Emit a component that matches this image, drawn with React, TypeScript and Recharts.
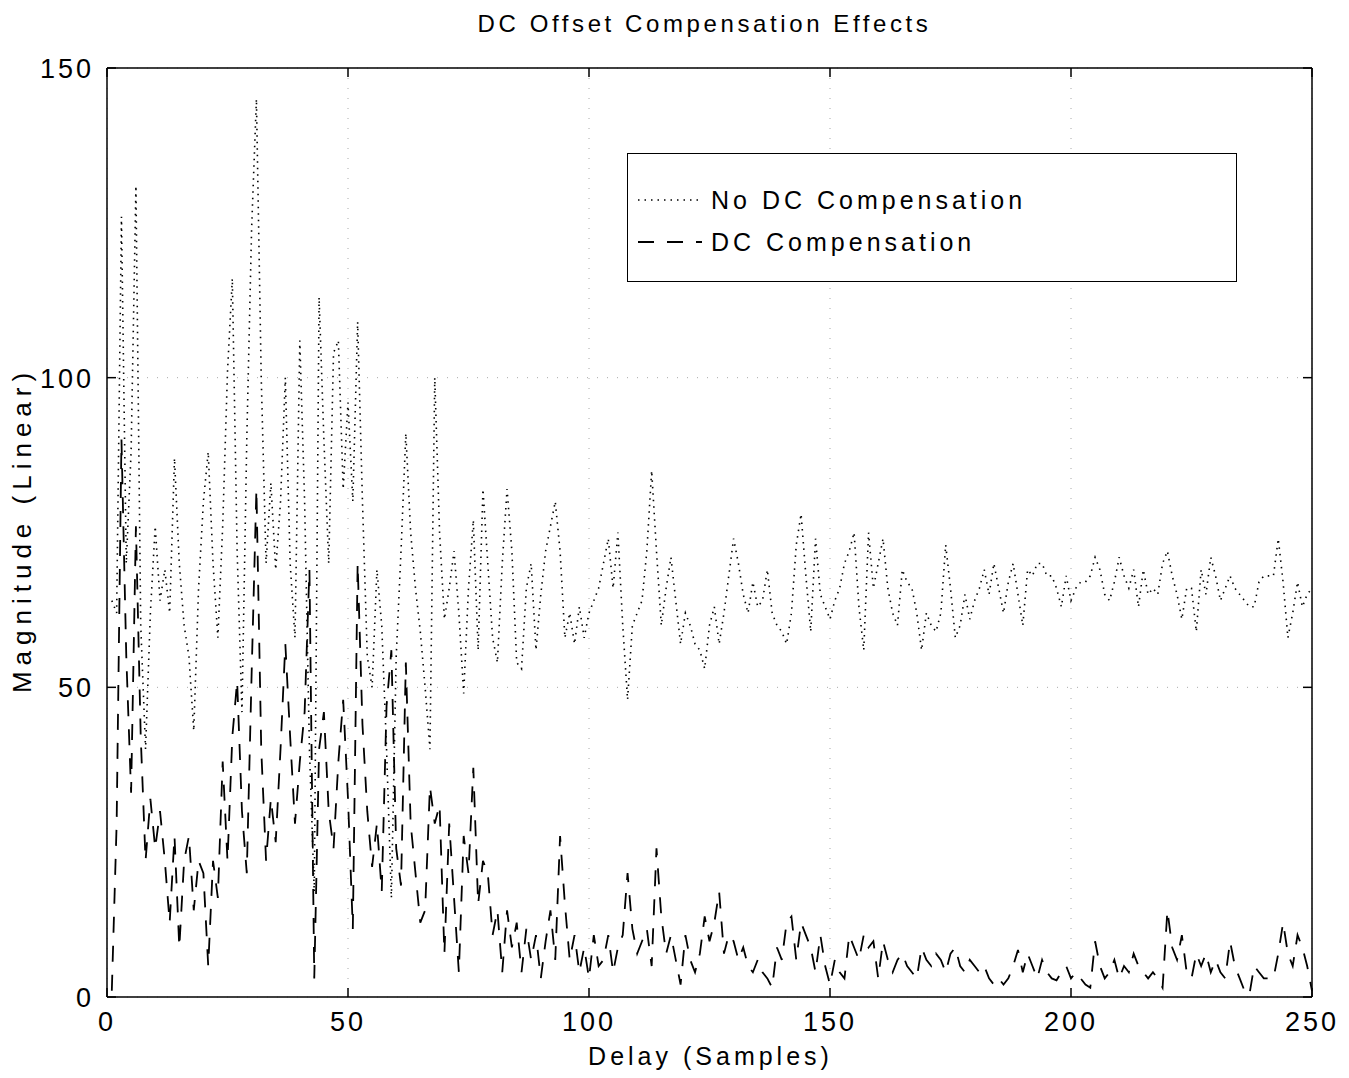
import React from "react";
import { LineChart, Line, XAxis, YAxis, CartesianGrid, ReferenceLine } from "recharts";

// magnitude per delay sample (1..250)
const noDcComp = [
    64, 62, 126, 70, 88, 131, 60, 40, 62, 76,
    64, 69, 62, 87, 70, 60, 55, 43, 66, 80,
    88, 70, 58, 76, 101, 116, 72, 46, 90, 124,
    145, 100, 70, 83, 69, 80, 100, 70, 58, 106,
    80, 40, 17, 113, 90, 70, 104, 106, 82, 96,
    80, 109, 80, 55, 50, 69, 60, 40, 16, 55,
    72, 91, 75, 66, 59, 50, 40, 100, 75, 61,
    66, 72, 62, 49, 66, 77, 56, 82, 70, 58,
    54, 70, 82, 72, 54, 53, 66, 70, 56, 65,
    72, 76, 80, 72, 58, 62, 57, 63, 58, 62,
    64, 66, 70, 74, 66, 75, 60, 48, 60, 62,
    64, 72, 85, 72, 60, 66, 71, 64, 57, 62,
    60, 57, 56, 53, 60, 63, 57, 62, 68, 74,
    70, 65, 62, 67, 63, 64, 69, 62, 60, 59,
    57, 62, 73, 78, 68, 59, 74, 65, 63, 61,
    64, 66, 70, 72, 75, 63, 56, 75, 66, 70,
    74, 66, 62, 60, 69, 67, 66, 62, 56, 62,
    60, 59, 62, 73, 66, 58, 60, 65, 61, 64,
    66, 69, 65, 70, 66, 62, 67, 70, 65, 60,
    69, 68, 70, 70, 68, 68, 66, 63, 68, 64,
    66, 67, 67, 68, 71, 69, 65, 64, 67, 71,
    68, 66, 69, 63, 69, 65, 66, 65, 70, 72,
    68, 65, 61, 66, 66, 59, 69, 65, 71, 68,
    64, 66, 68, 66, 65, 64, 63, 63, 67, 68,
    68, 68, 74, 67, 58, 62, 67, 63, 65, 66,
];

const dcComp = [
    1, 28, 90, 55, 33, 76, 42, 22, 32, 24,
    30, 22, 12, 26, 8, 22, 26, 14, 22, 20,
    5, 22, 16, 38, 22, 42, 51, 30, 20, 52,
    82, 40, 22, 32, 25, 40, 57, 42, 28, 38,
    46, 69, 3, 40, 46, 30, 24, 38, 48, 32,
    11, 70, 44, 30, 21, 28, 17, 47, 56, 24,
    18, 54, 28, 20, 12, 14, 34, 28, 31, 7,
    28, 16, 4, 26, 20, 37, 15, 22, 20, 10,
    14, 4, 14, 8, 12, 4, 11, 6, 10, 3,
    9, 14, 6, 26, 15, 6, 10, 4, 8, 3,
    10, 5, 6, 10, 4, 8, 10, 20, 11, 7,
    9, 11, 5, 24, 13, 7, 10, 6, 2, 10,
    6, 4, 7, 13, 9, 12, 17, 7, 10, 9,
    6, 8, 5, 4, 6, 4, 3, 1.5, 8, 6,
    12, 13, 6, 12, 10, 8, 4, 10, 5, 2,
    6, 4, 3, 10, 8, 6, 10, 8, 9, 3,
    9, 6, 4, 6, 7, 5, 4, 3, 8, 6,
    5, 7, 6, 4, 7, 8, 5, 4, 6, 5,
    4, 5, 3, 2, 3, 2, 3, 5, 7.6, 4,
    7, 5, 3, 6, 4, 3, 2.7, 4, 5, 3,
    4, 3, 2, 1.5, 9, 5, 3, 4, 6, 3,
    5, 4, 7, 5, 4, 3, 4, 3, 1.5, 14,
    8, 6, 10, 4, 3, 7, 5, 7, 4, 6,
    4, 3, 9, 5, 3, 1, 0.3, 5, 4, 3,
    3, 3, 7, 12, 7, 5, 10, 8, 5, 1,
];

const xTicks = [0, 50, 100, 150, 200, 250];
const yTicks = [0, 50, 100, 150];

const seriesNames = ["No DC Compensation", "DC Compensation"];

const data = noDcComp.map((v, i) => ({
    delay: i + 1,
    noDc: v,
    dc: dcComp[i],
}));

const FONT = "'Liberation Sans', Arial, Helvetica, sans-serif";
const PLOT_TOP = 68;
const PLOT_RIGHT = 1312;

const XTick = (props: any) => {
    const { x, y, payload } = props;
    return (
        <g>
            <line x1={x} x2={x} y1={y} y2={y - 9} stroke="#000" strokeWidth={1.5} />
            <line x1={x} x2={x} y1={PLOT_TOP} y2={PLOT_TOP + 9} stroke="#000" strokeWidth={1.5} />
            <text x={x} y={y + 34} textAnchor="middle" fontSize={27} letterSpacing={3} fontFamily={FONT} fill="#000">
                {payload.value}
            </text>
        </g>
    );
};

const YTick = (props: any) => {
    const { x, y, payload } = props;
    return (
        <g>
            <line x1={x} x2={x + 9} y1={y} y2={y} stroke="#000" strokeWidth={1.5} />
            <line x1={PLOT_RIGHT - 9} x2={PLOT_RIGHT} y1={y} y2={y} stroke="#000" strokeWidth={1.5} />
            <text x={x - 13} y={y + 10} textAnchor="end" fontSize={27} letterSpacing={3} fontFamily={FONT} fill="#000">
                {payload.value}
            </text>
        </g>
    );
};

// legend drawn as a plain box over the plot, like the MATLAB one
const LegendBox = () => (
    <div
        style={{
            position: "absolute",
            left: 627,
            top: 153,
            width: 608,
            height: 127,
            border: "1.5px solid #000",
            background: "#fff",
            fontFamily: FONT,
            fontSize: 25,
            letterSpacing: 4,
            color: "#000",
        }}
    >
        {seriesNames.map((name, i) => (
            <div key={name} style={{ position: "absolute", left: 8, top: 30 + i * 42, height: 32, display: "flex", alignItems: "center" }}>
                <svg width={70} height={10}>
                    <line
                        x1={2}
                        x2={66}
                        y1={5}
                        y2={5}
                        stroke="#000"
                        strokeWidth={i === 0 ? 1.6 : 1.8}
                        strokeDasharray={i === 0 ? "1.5 5" : "16 13"}
                    />
                </svg>
                <span style={{ marginLeft: 5 }}>{name}</span>
            </div>
        ))}
    </div>
);

export default function App() {
    return (
        <div style={{ position: "absolute", left: 0, top: 0, width: 1349, height: 1078, background: "#fff" }}>
            <div
                style={{
                    position: "absolute",
                    left: 0,
                    width: 1349,
                    top: 10,
                    textAlign: "center",
                    fontFamily: FONT,
                    fontSize: 24,
                    letterSpacing: 3.6,
                    paddingLeft: 60,
                    boxSizing: "border-box",
                }}
            >
                DC Offset Compensation Effects
            </div>
            <div
                style={{
                    position: "absolute",
                    left: 0,
                    width: 1349,
                    top: 1042,
                    textAlign: "center",
                    fontFamily: FONT,
                    fontSize: 25,
                    letterSpacing: 4,
                    paddingLeft: 72,
                    boxSizing: "border-box",
                }}
            >
                Delay (Samples)
            </div>
            <div
                style={{
                    position: "absolute",
                    left: 22,
                    top: 530,
                    transform: "translate(-50%, -50%) rotate(-90deg)",
                    whiteSpace: "nowrap",
                    fontFamily: FONT,
                    fontSize: 26,
                    letterSpacing: 6,
                    lineHeight: "28px",
                }}
            >
                Magnitude (Linear)
            </div>
            <LineChart width={1349} height={1078} data={data} margin={{ top: 68, right: 37, bottom: 0, left: 0 }}>
                <CartesianGrid stroke="#aaa" strokeDasharray="1 9" />
                <XAxis
                    dataKey="delay"
                    type="number"
                    domain={[0, 250]}
                    ticks={xTicks}
                    height={81}
                    tickSize={0}
                    tickMargin={0}
                    tickLine={false}
                    axisLine={{ stroke: "#000", strokeWidth: 1.5 }}
                    tick={<XTick />}
                    interval={0}
                />
                <YAxis
                    type="number"
                    domain={[0, 150]}
                    ticks={yTicks}
                    width={107}
                    tickSize={0}
                    tickMargin={0}
                    tickLine={false}
                    axisLine={{ stroke: "#000", strokeWidth: 1.5 }}
                    tick={<YTick />}
                    interval={0}
                />
                <ReferenceLine y={150} stroke="#000" strokeWidth={1.5} />
                <ReferenceLine x={250} stroke="#000" strokeWidth={1.5} />
                <Line
                    dataKey="noDc"
                    name={seriesNames[0]}
                    type="linear"
                    stroke="#000"
                    strokeWidth={1.6}
                    strokeDasharray="1.5 5"
                    dot={false}
                    isAnimationActive={false}
                />
                <Line
                    dataKey="dc"
                    name={seriesNames[1]}
                    type="linear"
                    stroke="#000"
                    strokeWidth={1.8}
                    strokeDasharray="16 13"
                    dot={false}
                    isAnimationActive={false}
                />
            </LineChart>
            <LegendBox />
        </div>
    );
}
